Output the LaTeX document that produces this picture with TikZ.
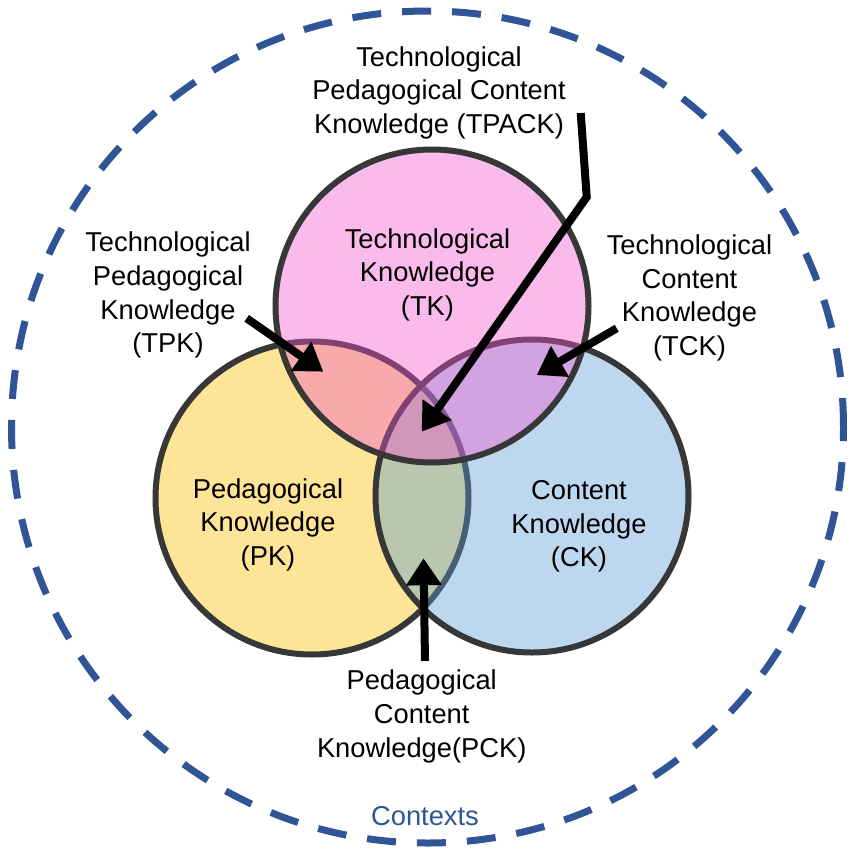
\documentclass[tikz,border=0pt]{standalone}
\usepackage{fontspec}
\setmainfont{Liberation Sans}
\usetikzlibrary{arrows.meta}
\definecolor{ctxblue}{RGB}{47,85,151}
\definecolor{pkbase}{RGB}{253,228,150}
\definecolor{ckbase}{RGB}{90,155,212}
\definecolor{tkbase}{RGB}{242,82,207}
\definecolor{rim}{RGB}{55,55,55}
\tikzset{
  kcircle/.style={circle, minimum size=313pt, inner sep=0pt, draw=rim, line width=6pt, fill opacity=0.4},
  lbl/.style={align=center, inner sep=0pt, font=\fontsize{27.3pt}{33.7pt}\selectfont, text=black},
  ptr/.style={line width=8pt, black, -{Triangle[width=34pt,length=27pt]}},
}
\begin{document}
\begin{tikzpicture}[x=1pt,y=-1pt]
\useasboundingbox (0,0) rectangle (851,854);
% outer context
\node[circle, minimum size=832pt, inner sep=0pt, draw=ctxblue, line width=7pt, dash pattern=on 29pt off 21pt] (ctx) at (427.5,427) {};
% knowledge circles
\node[kcircle, fill=pkbase, fill opacity=1] (PK) at (312,498) {};
\node[kcircle, fill=ckbase] (CK) at (532,496) {};
\node[kcircle, fill=tkbase] (TK) at (432,306) {};
% labels
\node[lbl] (tklbl) at (427.5,274.7) {Technological\\Knowledge\\(TK)};
\node[lbl] (pklbl) at (268,524.7) {Pedagogical\\Knowledge\\(PK)};
\node[lbl] (cklbl) at (579,526.3) {Content\\Knowledge\\(CK)};
\node[lbl] (tpacklbl) at (439,92.8) {Technological\\Pedagogical Content\\Knowledge (TPACK)};
\node[lbl] (tpklbl) at (168,295.2) {Technological\\Pedagogical\\Knowledge\\(TPK)};
\node[lbl] (tcklbl) at (689.5,298) {Technological\\Content\\Knowledge\\(TCK)};
\node[lbl] (pcklbl) at (421.7,716.3) {Pedagogical\\Content\\Knowledge(PCK)};
\node[lbl, text=ctxblue] (ctxlbl) at (425,816) {Contexts};
% arrow endpoints
\coordinate (tpkS) at (246.7,318.3);
\coordinate (tpkE) at (323.3,371.7);
\coordinate (tckS) at (616.7,328.3);
\coordinate (tckE) at (536.7,375);
\coordinate (tpaS) at (580.7,113);
\coordinate (tpaB) at (586.7,197);
\coordinate (tpaE) at (421.7,431.7);
\coordinate (pckS) at (425,661);
\coordinate (pckE) at (423.5,558.3);
% arrows
\draw[ptr] (tpkS) -- (tpkE);
\draw[ptr] (tckS) -- (tckE);
\draw[ptr, line join=miter] (tpaS) -- (tpaB) -- (tpaE);
\draw[ptr] (pckS) -- (pckE);
\end{tikzpicture}
\end{document}
